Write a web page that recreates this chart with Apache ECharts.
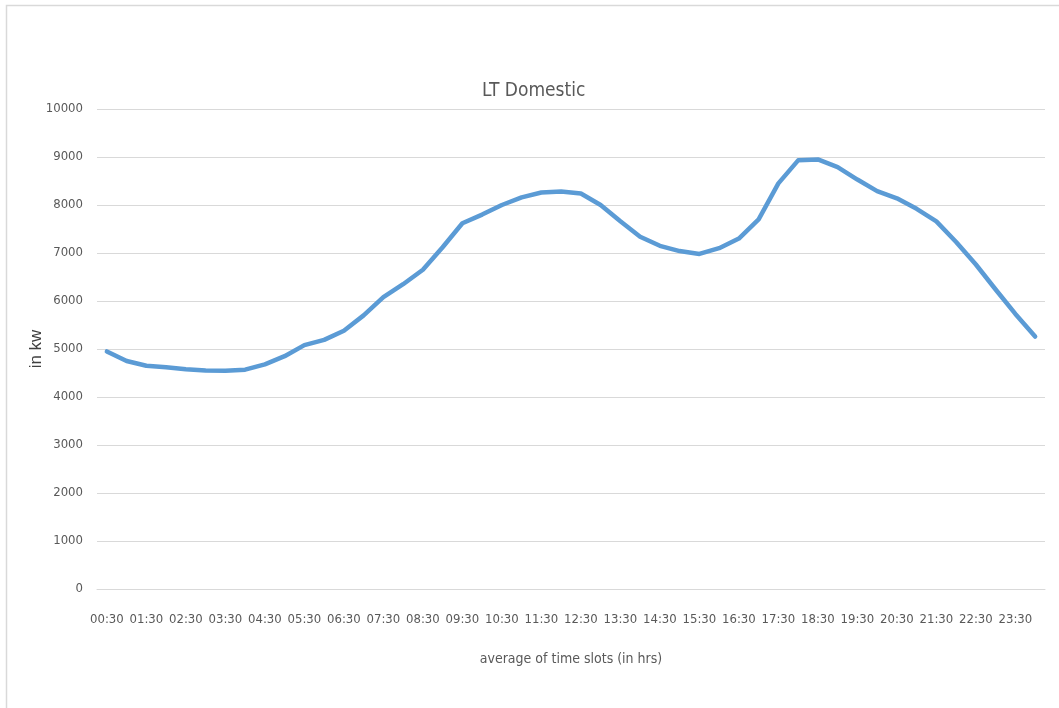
<!DOCTYPE html>
<html>
<head>
<meta charset="utf-8">
<title>LT Domestic</title>
<script src="https://cdn.jsdelivr.net/npm/echarts@6/dist/echarts.min.js"></script>
<style>
  html, body { margin: 0; padding: 0; background: #ffffff; }
  #chart { width: 1059px; height: 708px; }
</style>
</head>
<body>
<div id="chart"></div>
<script>
// Half-hourly time slots (only every other one is labelled on the axis)
const timeSlots = [
  "00:30", "01:00", "01:30", "02:00", "02:30", "03:00", "03:30", "04:00",
  "04:30", "05:00", "05:30", "06:00", "06:30", "07:00", "07:30", "08:00",
  "08:30", "09:00", "09:30", "10:00", "10:30", "11:00", "11:30", "12:00",
  "12:30", "13:00", "13:30", "14:00", "14:30", "15:00", "15:30", "16:00",
  "16:30", "17:00", "17:30", "18:00", "18:30", "19:00", "19:30", "20:00",
  "20:30", "21:00", "21:30", "22:00", "22:30", "23:00", "23:30", "24:00"
];

// Average LT domestic load per slot, in kW
const loadKw = [
  4950, 4750, 4650, 4620, 4580, 4550, 4545, 4570,
  4680, 4850, 5080, 5190, 5380, 5700, 6080, 6350,
  6650, 7120, 7620, 7800, 8000, 8160, 8260, 8280,
  8240, 8000, 7660, 7340, 7150, 7040, 6980, 7100,
  7300, 7700, 8450, 8930, 8950, 8790, 8530, 8290,
  8140, 7920, 7660, 7230, 6760, 6240, 5730, 5260
];

const yTicks = { min: 0, max: 10000, step: 1000 };

const chartTitle = "LT Domestic";
const xAxisTitle = "average of time slots (in hrs)";
const yAxisTitle = "in kw";

const labelFont = '"DejaVu Sans Condensed", "Liberation Sans", Arial, sans-serif';
const textGrey = "#595959";
const gridGrey = "#d9d9d9";

const chart = echarts.init(document.getElementById("chart"), null, { renderer: "canvas" });

chart.setOption({
  backgroundColor: "#ffffff",
  animation: false,
  graphic: [
    {
      type: "rect",
      shape: { x: 6.5, y: 5.5, width: 1100, height: 800 },
      style: { fill: "none", stroke: gridGrey, lineWidth: 1.5 },
      silent: true,
      z: -1
    }
  ],
  title: {
    text: chartTitle,
    left: 477,
    top: 77,
    textStyle: {
      fontFamily: labelFont,
      fontSize: 19,
      fontWeight: "normal",
      color: textGrey
    }
  },
  grid: {
    left: 97,
    right: 14,
    top: 109,
    bottom: 119,
    containLabel: false
  },
  xAxis: {
    type: "category",
    data: timeSlots,
    boundaryGap: true,
    name: xAxisTitle,
    nameLocation: "middle",
    nameGap: 63,
    nameMoveOverlap: false,
    nameTextStyle: {
      fontFamily: labelFont,
      fontSize: 14,
      color: textGrey
    },
    axisLine: { show: true, lineStyle: { color: gridGrey, width: 1 } },
    axisTick: { show: false },
    axisLabel: {
      interval: 1,
      margin: 24,
      fontFamily: labelFont,
      fontSize: 13,
      color: textGrey
    },
    splitLine: { show: false }
  },
  yAxis: {
    type: "value",
    min: yTicks.min,
    max: yTicks.max,
    interval: yTicks.step,
    name: yAxisTitle,
    nameLocation: "middle",
    nameRotate: 90,
    nameGap: 52,
    nameMoveOverlap: false,
    nameTextStyle: {
      fontFamily: '"Liberation Sans", Arial, sans-serif',
      fontSize: 17,
      color: "#404040"
    },
    axisLine: { show: false },
    axisTick: { show: false },
    axisLabel: {
      margin: 14,
      fontFamily: labelFont,
      fontSize: 13,
      color: textGrey,
      formatter: function (v) { return String(v); }
    },
    splitLine: { show: true, lineStyle: { color: gridGrey, width: 1 } }
  },
  series: [
    {
      type: "line",
      data: loadKw,
      smooth: false,
      showSymbol: false,
      symbol: "none",
      lineStyle: { color: "#5b9bd5", width: 4.5, cap: "round", join: "round" },
      itemStyle: { color: "#5b9bd5" }
    }
  ]
});
</script>
</body>
</html>
